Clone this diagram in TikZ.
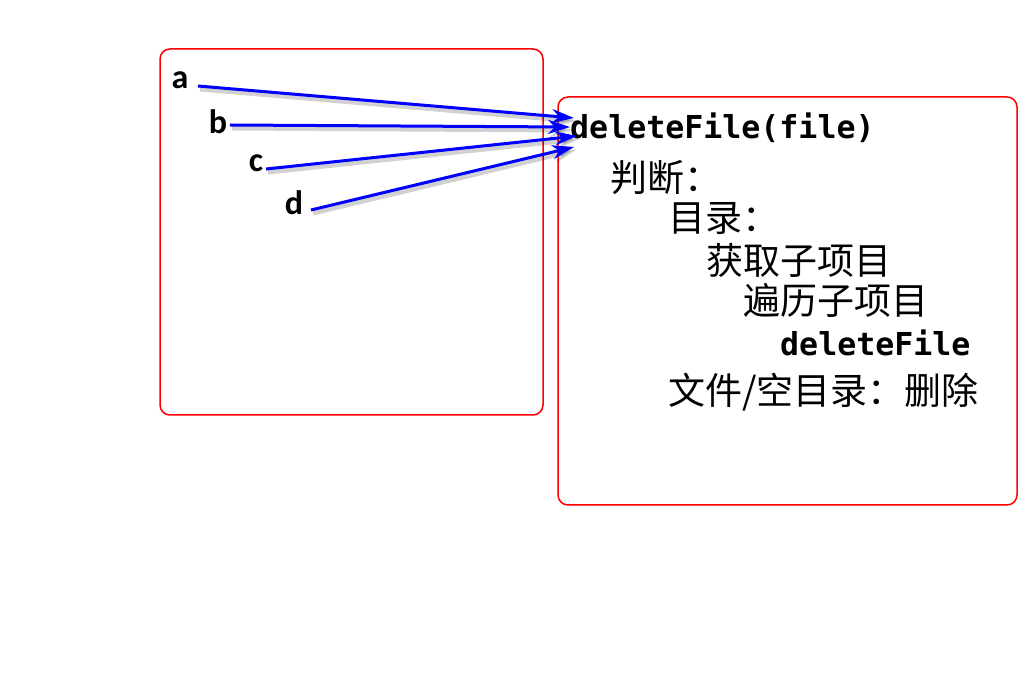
\documentclass[tikz,border=0pt]{standalone}
\usepackage{fontspec}
\setmainfont{Carlito}
\newfontfamily\cjk{Noto Sans CJK SC}
\newfontfamily\monof{DejaVu Sans Mono}
\usetikzlibrary{arrows.meta}
\begin{document}
\begin{tikzpicture}[x=1pt,y=-1pt,
  box/.style={draw=red, line width=1.5pt, rounded corners=10pt},
  lbl/.style={font=\fontsize{34}{34}\selectfont\bfseries, inner sep=0pt},
  code/.style={font=\fontsize{31.6}{31.6}\selectfont\monof\bfseries, inner sep=0pt, anchor=west},
  zh/.style={font=\fontsize{37}{37}\selectfont\cjk, inner sep=0pt, anchor=west},
  arr/.style={draw=blue, line width=3pt, -{Stealth[length=22pt,width=14pt]}},
  shad/.style={draw=black, opacity=0.18, line width=5pt, -{Stealth[length=22pt,width=15pt]}, transform canvas={shift={(2pt,-3pt)}}}]
\useasboundingbox (0,0) rectangle (1018,700);
\draw[box] (160,49) rectangle (543,415);
\draw[box] (558,97) rectangle (1017,505);
\node[lbl] (a) at (180,80) {a};
\node[lbl] (b) at (218,122) {b};
\node[lbl] (c) at (256,163) {c};
\node[lbl] (d) at (294,203) {d};
\node[code] (t0) at (570,128) {deleteFile(file)};
\node[zh] (t1) at (610,178) {判断：};
\node[zh] (t2) at (668,218) {目录：};
\node[zh] (t3) at (706,260) {获取子项目};
\node[zh] (t4) at (743,300) {遍历子项目};
\node[code] (t5) at (780,343) {deleteFile};
\node[zh] (t6) at (668,392) {文件/空目录：删除};
\coordinate (sa) at (198,86);  \coordinate (ea) at (574,118);
\coordinate (sb) at (230,125); \coordinate (eb) at (570,127);
\coordinate (sc) at (266,169); \coordinate (ec) at (577,136);
\coordinate (sd) at (311,210); \coordinate (ed) at (574,147);
\foreach \s/\e in {sa/ea,sb/eb,sc/ec,sd/ed} {\draw[shad] (\s) -- (\e);}
\foreach \s/\e in {sa/ea,sb/eb,sc/ec,sd/ed} {\draw[arr] (\s) -- (\e);}
\end{tikzpicture}
\end{document}
